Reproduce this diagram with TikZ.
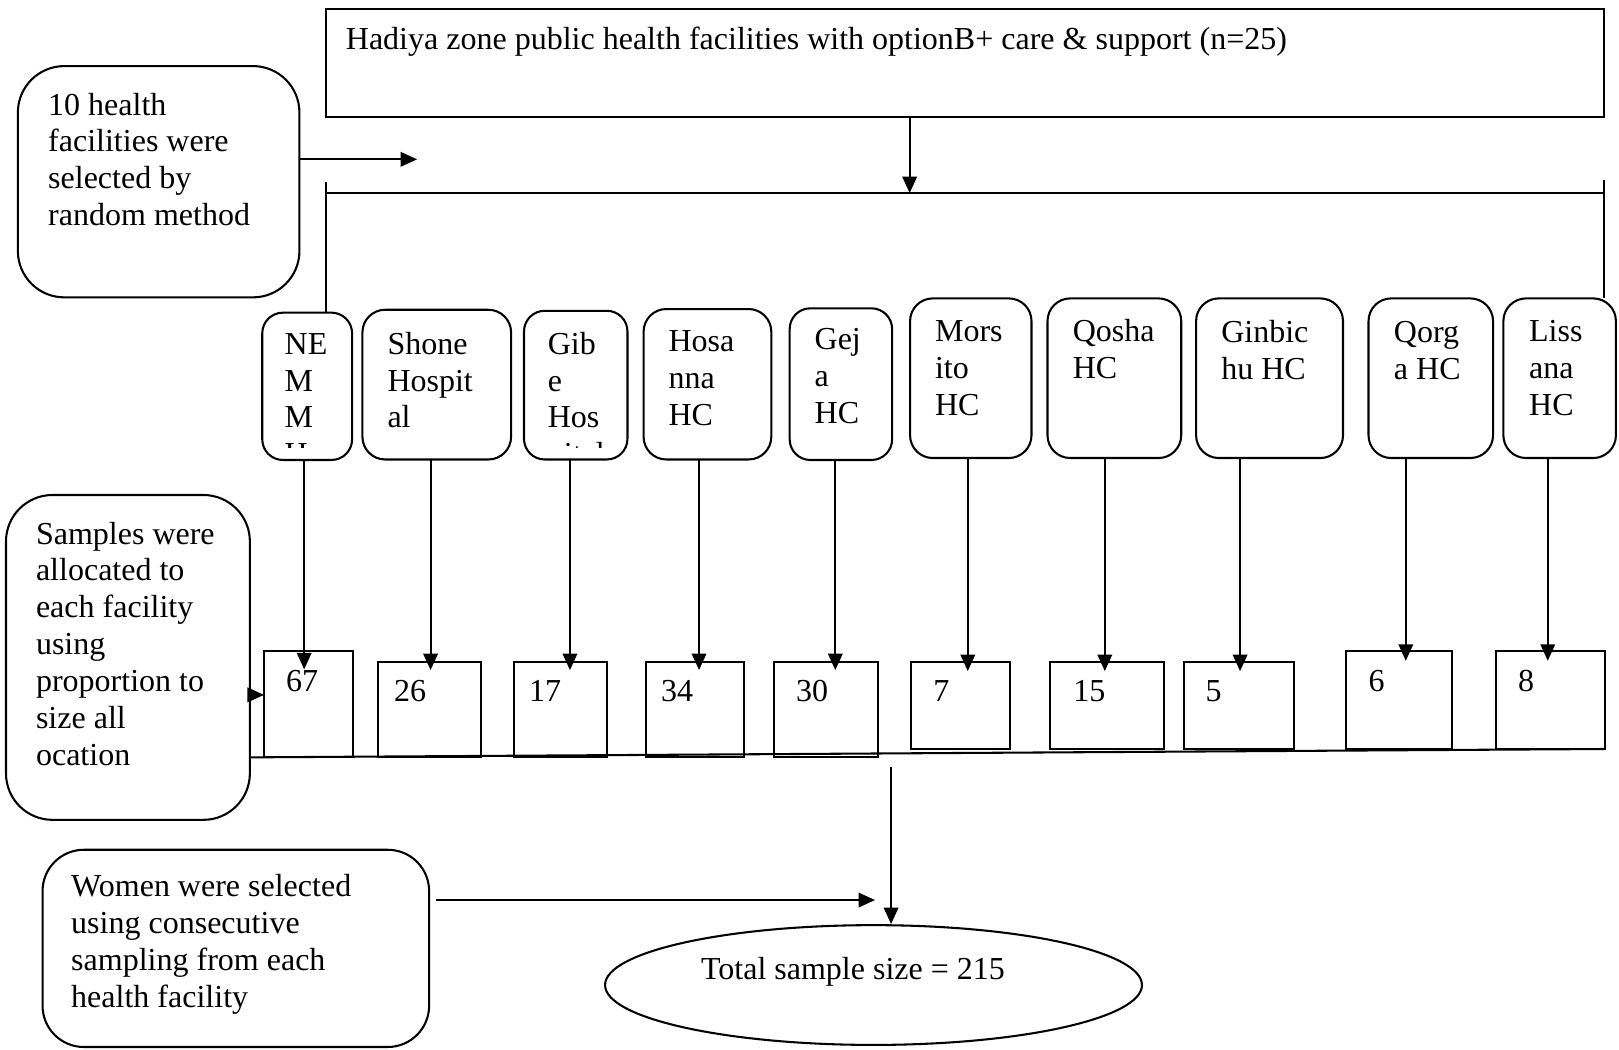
\documentclass[tikz,border=0pt]{standalone}
\usepackage{fontspec}
\setmainfont{Liberation Serif}
\usetikzlibrary{arrows.meta,fit,shapes.geometric}
\newcommand\dfont{\fontsize{31}{35.7}\selectfont}
\begin{document}
\begin{tikzpicture}[x=1pt,y=-1pt,line width=2pt,
  sqbox/.style={draw, inner sep=0pt, outer sep=0pt},
  rbox/.style={draw, rounded corners=#1, inner sep=0pt, outer sep=0pt},
  txt/.style={anchor=north west, inner sep=0pt, outer sep=0pt, align=left, font=\dfont},
  num/.style={anchor=base west, inner sep=0pt, font=\dfont},
  arr/.style={-{Triangle[length=16pt,width=14pt]}}]
\useasboundingbox (0,0) rectangle (1568,1016);

% top box
\node[sqbox, fit={(316,8.7)(1553.6,113)}] (top) {};
\node[txt] (toptxt) at (335,22.8) {\strut Hadiya zone public health facilities with optionB+ care \& support (n=25)};

% left boxes
\node[rbox=45pt, fit={(17.3,64)(290,288)}] (sel) {};
\node[txt] (seltxt) at (46.7,86.4) {\strut 10 health\\facilities were\\selected by\\random method};
\node[rbox=45pt, fit={(5.8,479.4)(242,794)}] (samp) {};
\node[txt] (samptxt) at (34.9,502) {\strut Samples were\\allocated to\\each facility\\using\\proportion to\\size all\\ocation};
\node[rbox=40pt, fit={(41.2,823)(415.6,1014)}] (wom) {};
\node[txt] (womtxt) at (69,843.5) {\strut Women were selected\\using consecutive\\sampling from each\\health facility};

% facility boxes
\node[rbox=20pt, fit={(254,302.8)(341,445.5)}] (f1) {};
\node[rbox=22pt, fit={(351,300)(495,445)}] (f2) {};
\node[rbox=20pt, fit={(507.5,301)(607.7,445)}] (f3) {};
\node[rbox=22pt, fit={(623.3,299.3)(747,445)}] (f4) {};
\node[rbox=20pt, fit={(764.8,298.6)(864,445.5)}] (f5) {};
\node[rbox=22pt, fit={(881.4,289)(999,443.6)}] (f6) {};
\node[rbox=22pt, fit={(1014.5,289)(1144,443.6)}] (f7) {};
\node[rbox=22pt, fit={(1158.4,289)(1300.7,443.6)}] (f8) {};
\node[rbox=22pt, fit={(1325.4,289)(1446,443.6)}] (f9) {};
\node[rbox=22pt, fit={(1456,289)(1565,443.6)}] (f10) {};

\begin{scope}
\clip (0,0) rectangle (1568,433);
\node[txt] (t1) at (275.7,318) {\strut NE\\M\\M\\H};
\node[txt] (t2) at (375.3,318) {\strut Shone\\Hospit\\al};
\node[txt] (t3) at (530.6,318) {\strut Gib\\e\\Hos\\pital};
\node[txt] (t4) at (647.5,315.6) {\strut Hosa\\nna\\HC};
\node[txt] (t5) at (789,313.3) {\strut Gej\\a\\HC};
\node[txt] (t6) at (905.6,306) {\strut Mors\\ito\\HC};
\node[txt] (t7) at (1039,306) {\strut Qosha\\HC};
\node[txt] (t8) at (1182.8,307) {\strut Ginbic\\hu HC};
\node[txt] (t9) at (1350,307) {\strut Qorg\\a HC};
\node[txt] (t10) at (1481,306) {\strut Liss\\ana\\HC};
\end{scope}

% number boxes
\node[sqbox, fit={(255.7,630.5)(342,733.5)}] (n1) {};
\node[sqbox, fit={(365.8,641)(466,733.5)}] (n2) {};
\node[sqbox, fit={(497.6,641)(588.2,733.5)}] (n3) {};
\node[sqbox, fit={(625.5,641)(721,733.5)}] (n4) {};
\node[sqbox, fit={(749.5,641)(850.7,733.5)}] (n5) {};
\node[sqbox, fit={(882.6,641)(978,725.4)}] (n6) {};
\node[sqbox, fit={(1017,641)(1127,725.4)}] (n7) {};
\node[sqbox, fit={(1146.3,641)(1253,725.4)}] (n8) {};
\node[sqbox, fit={(1304,630.5)(1406.5,725.4)}] (n9) {};
\node[sqbox, fit={(1449,630.5)(1554.8,725.4)}] (n10) {};

\node[num] (v1) at (276,670) {67};
\node[num] (v2) at (380.8,679.6) {26};
\node[num] (v3) at (511.5,679.6) {17};
\node[num] (v4) at (639.4,679.6) {34};
\node[num] (v5) at (770,679.6) {30};
\node[num] (v6) at (903,679.6) {7};
\node[num] (v7) at (1038.6,679.6) {15};
\node[num] (v8) at (1166.7,679.6) {5};
\node[num] (v9) at (1324.4,670) {6};
\node[num] (v10) at (1469.3,670) {8};

% ellipse
\node[draw, ellipse, minimum width=520pt, minimum height=116pt, inner sep=0pt] (ell) at (846,954) {};
\node[num] (elltxt) at (678,949) {Total sample size = 215};

% connectors
\coordinate (tip) at (881,187);
\draw[arr] (top.south -| tip) -- (tip);
\coordinate (hl) at (316,187);
\coordinate (hr) at (1553.5,187);
\draw (hl) -- (hr);
\coordinate (bl) at (316,176);
\draw (bl) -- (bl |- f1.north);
\coordinate (br) at (1553.5,174);
\draw (br) -- (br |- f10.north);

\coordinate (selt) at (404,154.3);
\draw[arr] (sel.east |- selt) -- (selt);

\coordinate (a1) at (294.6,648.3);
\coordinate (a2) at (417,649);
\coordinate (a3) at (552,649);
\coordinate (a4) at (677,649);
\coordinate (a5) at (809,649);
\coordinate (a6) at (937.3,650);
\coordinate (a7) at (1070,650);
\coordinate (a8) at (1201,650);
\coordinate (a9) at (1361.5,640);
\coordinate (a10) at (1499,640);
\foreach \i in {1,...,10} {
  \draw[arr] (f\i.south -| a\i) -- (a\i);
}

\coordinate (sa) at (0,673);
\draw[arr] (samp.east |- sa) -- (n1.west |- sa);
\draw (samp.east |- n1.south) -- (n10.south east);

\coordinate (dv) at (863,743);
\draw[arr] (dv) -- (dv |- ell.north);

\coordinate (wt) at (847.5,871.7);
\draw[arr] ([xshift=7pt]wom.east |- wt) -- (wt);
\end{tikzpicture}
\end{document}
